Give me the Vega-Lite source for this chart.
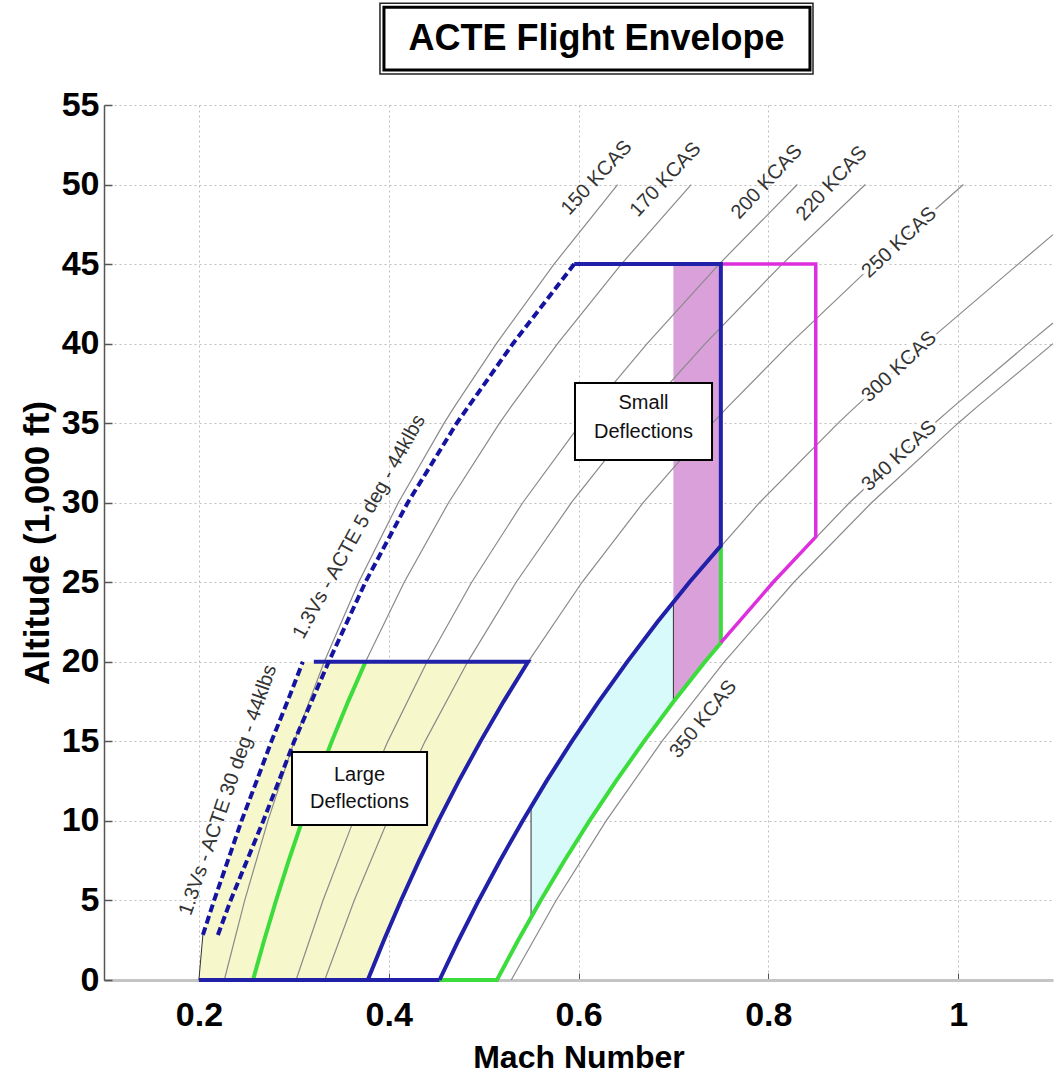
{
  "$schema": "https://vega.github.io/schema/vega-lite/v6.json",
  "width": 949,
  "height": 875,
  "autosize": {"type": "none"},
  "padding": {"left": 104, "top": 105, "right": 3, "bottom": 101},
  "background": "white",
  "config": {"font": "Liberation Sans", "view": {"stroke": null}},
  "datasets": {
    "fills": [
      {"r": "large", "a": 0, "m": 0.2, "m2": 0.37795},
      {"r": "large", "a": 2.83, "m": 0.2042, "m2": 0.39731},
      {"r": "large", "a": 5, "m": 0.216, "m2": 0.41293},
      {"r": "large", "a": 7.5, "m": 0.2305, "m2": 0.43202},
      {"r": "large", "a": 10, "m": 0.2449, "m2": 0.45229},
      {"r": "large", "a": 12.5, "m": 0.2608, "m2": 0.4738},
      {"r": "large", "a": 15, "m": 0.2764, "m2": 0.4967},
      {"r": "large", "a": 17.5, "m": 0.2933, "m2": 0.52101},
      {"r": "large", "a": 20, "m": 0.3095, "m2": 0.54687},
      {"r": "cyan", "a": 3.95, "m": 0.55, "m2": 0.55},
      {"r": "cyan", "a": 5, "m": 0.55, "m2": 0.56008},
      {"r": "cyan", "a": 7.5, "m": 0.55, "m2": 0.58508},
      {"r": "cyan", "a": 10, "m": 0.55, "m2": 0.61151},
      {"r": "cyan", "a": 10.86, "m": 0.55, "m2": 0.6214},
      {"r": "cyan", "a": 12.5, "m": 0.56625, "m2": 0.63944},
      {"r": "cyan", "a": 15, "m": 0.59296, "m2": 0.669},
      {"r": "cyan", "a": 17.5, "m": 0.62127, "m2": 0.7},
      {"r": "cyan", "a": 20, "m": 0.6513, "m2": 0.7},
      {"r": "cyan", "a": 22.5, "m": 0.68313, "m2": 0.7},
      {"r": "cyan", "a": 23.75, "m": 0.7, "m2": 0.7},
      {"r": "pink", "a": 17.5, "m": 0.7, "m2": 0.7},
      {"r": "pink", "a": 20, "m": 0.7, "m2": 0.73327},
      {"r": "pink", "a": 21.2, "m": 0.7, "m2": 0.75},
      {"r": "pink", "a": 45, "m": 0.7, "m2": 0.75}
    ],
    "cas": [
      {"k": "150", "m": 0.22677, "a": 0}, {"k": "150", "m": 0.24828, "a": 5}, {"k": "150", "m": 0.27267, "a": 10}, {"k": "150", "m": 0.3004, "a": 15}, {"k": "150", "m": 0.33208, "a": 20}, {"k": "150", "m": 0.36837, "a": 25}, {"k": "150", "m": 0.41013, "a": 30}, {"k": "150", "m": 0.45836, "a": 35}, {"k": "150", "m": 0.46984, "a": 36.089}, {"k": "150", "m": 0.51343, "a": 40}, {"k": "150", "m": 0.57426, "a": 45}, {"k": "150", "m": 0.64117, "a": 50},
      {"k": "170", "m": 0.25701, "a": 0}, {"k": "170", "m": 0.2813, "a": 5}, {"k": "170", "m": 0.3088, "a": 10}, {"k": "170", "m": 0.34002, "a": 15}, {"k": "170", "m": 0.3756, "a": 20}, {"k": "170", "m": 0.41631, "a": 25}, {"k": "170", "m": 0.46303, "a": 30}, {"k": "170", "m": 0.51678, "a": 35}, {"k": "170", "m": 0.52955, "a": 36.089}, {"k": "170", "m": 0.57793, "a": 40}, {"k": "170", "m": 0.64516, "a": 45}, {"k": "170", "m": 0.71871, "a": 50},
      {"k": "200", "m": 0.30236, "a": 0}, {"k": "200", "m": 0.33074, "a": 5}, {"k": "200", "m": 0.36279, "a": 10}, {"k": "200", "m": 0.39911, "a": 15}, {"k": "200", "m": 0.44039, "a": 20}, {"k": "200", "m": 0.48744, "a": 25}, {"k": "200", "m": 0.54118, "a": 30}, {"k": "200", "m": 0.60272, "a": 35}, {"k": "200", "m": 0.61728, "a": 36.089}, {"k": "200", "m": 0.67227, "a": 40}, {"k": "200", "m": 0.7482, "a": 45}, {"k": "200", "m": 0.83059, "a": 50},
      {"k": "220", "m": 0.33259, "a": 0}, {"k": "220", "m": 0.36364, "a": 5}, {"k": "220", "m": 0.39867, "a": 10}, {"k": "220", "m": 0.43829, "a": 15}, {"k": "220", "m": 0.48322, "a": 20}, {"k": "220", "m": 0.53428, "a": 25}, {"k": "220", "m": 0.59247, "a": 30}, {"k": "220", "m": 0.65883, "a": 35}, {"k": "220", "m": 0.67451, "a": 36.089}, {"k": "220", "m": 0.73352, "a": 40}, {"k": "220", "m": 0.81466, "a": 45}, {"k": "220", "m": 0.90227, "a": 50},
      {"k": "250", "m": 0.37795, "a": 0}, {"k": "250", "m": 0.41293, "a": 5}, {"k": "250", "m": 0.45229, "a": 10}, {"k": "250", "m": 0.4967, "a": 15}, {"k": "250", "m": 0.54687, "a": 20}, {"k": "250", "m": 0.6037, "a": 25}, {"k": "250", "m": 0.66813, "a": 30}, {"k": "250", "m": 0.74121, "a": 35}, {"k": "250", "m": 0.7584, "a": 36.089}, {"k": "250", "m": 0.82292, "a": 40}, {"k": "250", "m": 0.9111, "a": 45}, {"k": "250", "m": 1.00557, "a": 50},
      {"k": "300", "m": 0.45354, "a": 0}, {"k": "300", "m": 0.49481, "a": 5}, {"k": "300", "m": 0.54106, "a": 10}, {"k": "300", "m": 0.59296, "a": 15}, {"k": "300", "m": 0.6513, "a": 20}, {"k": "300", "m": 0.71688, "a": 25}, {"k": "300", "m": 0.79065, "a": 30}, {"k": "300", "m": 0.87356, "a": 35}, {"k": "300", "m": 0.89289, "a": 36.089}, {"k": "300", "m": 0.96528, "a": 40}, {"k": "300", "m": 1.06332, "a": 45}, {"k": "300", "m": 1.1, "a": 46.85},
      {"k": "340", "m": 0.51401, "a": 0}, {"k": "340", "m": 0.56008, "a": 5}, {"k": "340", "m": 0.61151, "a": 10}, {"k": "340", "m": 0.669, "a": 15}, {"k": "340", "m": 0.73327, "a": 20}, {"k": "340", "m": 0.80513, "a": 25}, {"k": "340", "m": 0.88545, "a": 30}, {"k": "340", "m": 0.97511, "a": 35}, {"k": "340", "m": 0.99603, "a": 36.089}, {"k": "340", "m": 1.0737, "a": 40}, {"k": "340", "m": 1.1, "a": 41.3},
      {"k": "350", "m": 0.52912, "a": 0}, {"k": "350", "m": 0.57637, "a": 5}, {"k": "350", "m": 0.62906, "a": 10}, {"k": "350", "m": 0.68787, "a": 15}, {"k": "350", "m": 0.75356, "a": 20}, {"k": "350", "m": 0.82689, "a": 25}, {"k": "350", "m": 0.90874, "a": 30}, {"k": "350", "m": 0.99997, "a": 35}, {"k": "350", "m": 1.02117, "a": 36.089}, {"k": "350", "m": 1.1, "a": 40}
    ],
    "thin": [
      {"p": "edge", "m": 0.2, "a": 0}, {"p": "edge", "m": 0.2042, "a": 2.83},
      {"p": "v55", "m": 0.55, "a": 3.95}, {"p": "v55", "m": 0.55, "a": 10.86},
      {"p": "v70", "m": 0.7, "a": 17.5}, {"p": "v70", "m": 0.7, "a": 23.75}
    ],
    "paths": [
      {"p": "green", "i": 0, "m": 0.45354, "a": 0}, {"p": "green", "i": 1, "m": 0.51401, "a": 0}, {"p": "green", "i": 2, "m": 0.53641, "a": 2.5}, {"p": "green", "i": 3, "m": 0.56008, "a": 5}, {"p": "green", "i": 4, "m": 0.58508, "a": 7.5}, {"p": "green", "i": 5, "m": 0.61151, "a": 10}, {"p": "green", "i": 6, "m": 0.63944, "a": 12.5}, {"p": "green", "i": 7, "m": 0.669, "a": 15}, {"p": "green", "i": 8, "m": 0.70023, "a": 17.5}, {"p": "green", "i": 9, "m": 0.73327, "a": 20}, {"p": "green", "i": 10, "m": 0.75, "a": 21.2}, {"p": "green", "i": 11, "m": 0.75, "a": 27.3},
      {"p": "green170", "i": 0, "m": 0.25701, "a": 0}, {"p": "green170", "i": 1, "m": 0.26878, "a": 2.5}, {"p": "green170", "i": 2, "m": 0.2813, "a": 5}, {"p": "green170", "i": 3, "m": 0.29461, "a": 7.5}, {"p": "green170", "i": 4, "m": 0.3088, "a": 10}, {"p": "green170", "i": 5, "m": 0.32389, "a": 12.5}, {"p": "green170", "i": 6, "m": 0.34002, "a": 15}, {"p": "green170", "i": 7, "m": 0.35722, "a": 17.5}, {"p": "green170", "i": 8, "m": 0.3756, "a": 20},
      {"p": "magenta", "i": 0, "m": 0.75, "a": 21.2}, {"p": "magenta", "i": 1, "m": 0.80513, "a": 25}, {"p": "magenta", "i": 2, "m": 0.85, "a": 27.85}, {"p": "magenta", "i": 3, "m": 0.85, "a": 45}, {"p": "magenta", "i": 4, "m": 0.75, "a": 45},
      {"p": "blue_bottom", "i": 0, "m": 0.2, "a": 0}, {"p": "blue_bottom", "i": 1, "m": 0.45354, "a": 0},
      {"p": "blue_250", "i": 0, "m": 0.37795, "a": 0}, {"p": "blue_250", "i": 1, "m": 0.39493, "a": 2.5}, {"p": "blue_250", "i": 2, "m": 0.41293, "a": 5}, {"p": "blue_250", "i": 3, "m": 0.43202, "a": 7.5}, {"p": "blue_250", "i": 4, "m": 0.45229, "a": 10}, {"p": "blue_250", "i": 5, "m": 0.4738, "a": 12.5}, {"p": "blue_250", "i": 6, "m": 0.4967, "a": 15}, {"p": "blue_250", "i": 7, "m": 0.52101, "a": 17.5}, {"p": "blue_250", "i": 8, "m": 0.54687, "a": 20}, {"p": "blue_250", "i": 9, "m": 0.3211, "a": 20},
      {"p": "blue_300", "i": 0, "m": 0.45354, "a": 0}, {"p": "blue_300", "i": 1, "m": 0.47359, "a": 2.5}, {"p": "blue_300", "i": 2, "m": 0.49481, "a": 5}, {"p": "blue_300", "i": 3, "m": 0.51726, "a": 7.5}, {"p": "blue_300", "i": 4, "m": 0.54106, "a": 10}, {"p": "blue_300", "i": 5, "m": 0.56625, "a": 12.5}, {"p": "blue_300", "i": 6, "m": 0.59296, "a": 15}, {"p": "blue_300", "i": 7, "m": 0.62127, "a": 17.5}, {"p": "blue_300", "i": 8, "m": 0.6513, "a": 20}, {"p": "blue_300", "i": 9, "m": 0.68313, "a": 22.5}, {"p": "blue_300", "i": 10, "m": 0.71688, "a": 25}, {"p": "blue_300", "i": 11, "m": 0.75, "a": 27.3}, {"p": "blue_300", "i": 12, "m": 0.75, "a": 45}, {"p": "blue_300", "i": 13, "m": 0.5955, "a": 45}
    ],
    "dashed": [
      {"p": "d30", "m": 0.2042, "a": 2.83}, {"p": "d30", "m": 0.216, "a": 5}, {"p": "d30", "m": 0.2305, "a": 7.5}, {"p": "d30", "m": 0.2449, "a": 10}, {"p": "d30", "m": 0.2608, "a": 12.5}, {"p": "d30", "m": 0.2764, "a": 15}, {"p": "d30", "m": 0.2933, "a": 17.5}, {"p": "d30", "m": 0.3095, "a": 20},
      {"p": "d5", "m": 0.22, "a": 2.83}, {"p": "d5", "m": 0.2334, "a": 5}, {"p": "d5", "m": 0.2506, "a": 7.5}, {"p": "d5", "m": 0.2678, "a": 10}, {"p": "d5", "m": 0.2842, "a": 12.5}, {"p": "d5", "m": 0.3004, "a": 15}, {"p": "d5", "m": 0.3368, "a": 20}, {"p": "d5", "m": 0.3754, "a": 25}, {"p": "d5", "m": 0.42, "a": 30}, {"p": "d5", "m": 0.4717, "a": 35}, {"p": "d5", "m": 0.5309, "a": 40}, {"p": "d5", "m": 0.5955, "a": 45}
    ],
    "kl": [
      {"g": "top", "t": "150 KCAS", "m": 0.6191, "a": 50.42},
      {"g": "top", "t": "170 KCAS", "m": 0.6917, "a": 50.32},
      {"g": "top", "t": "200 KCAS", "m": 0.7984, "a": 50.17},
      {"g": "top", "t": "220 KCAS", "m": 0.8667, "a": 50.07},
      {"g": "mid", "t": "250 KCAS", "m": 0.9379, "a": 46.36},
      {"g": "mid", "t": "300 KCAS", "m": 0.9379, "a": 38.55},
      {"g": "mid", "t": "340 KCAS", "m": 0.9379, "a": 32.95},
      {"g": "low", "t": "350 KCAS", "m": 0.7315, "a": 16.39}
    ],
    "dl": [
      {"g": "d30", "t": "1.3Vs - ACTE 30 deg - 44klbs", "m": 0.2307, "a": 11.94},
      {"g": "d5", "t": "1.3Vs - ACTE 5 deg - 44klbs", "m": 0.3689, "a": 28.49}
    ],
    "boxes": [
      {"b": "large", "m": 0.2981, "m2": 0.4404, "a": 9.74, "a2": 14.33},
      {"b": "small", "m": 0.5963, "m2": 0.7407, "a": 32.69, "a2": 37.53}
    ],
    "boxtext": [
      {"t": "Large", "m": 0.3692, "a": 12.89},
      {"t": "Deflections", "m": 0.3692, "a": 11.21},
      {"t": "Small", "m": 0.6685, "a": 36.25},
      {"t": "Deflections", "m": 0.6685, "a": 34.46}
    ],
    "tbox": [
      {"b": "outer", "m": 0.3908, "m2": 0.8471, "a": 56.95, "a2": 61.39},
      {"b": "inner", "m": 0.395, "m2": 0.8439, "a": 57.2, "a2": 61.14}
    ],
    "ttext": [
      {"t": "ACTE Flight Envelope", "m": 0.619, "a": 59.18}
    ]
  },
  "encoding": {
    "x": {
      "field": "m", "type": "quantitative",
      "scale": {"domain": [0.1, 1.1], "nice": false, "zero": false},
      "axis": {
        "title": "Mach Number", "values": [0.2, 0.4, 0.6, 0.8, 1], "format": "~g",
        "grid": true, "gridColor": "#bdbdbd", "gridDash": [2, 3], "gridWidth": 1,
        "domainColor": "#c4c4c4", "domainWidth": 3,
        "tickSize": -7, "tickColor": "#555555", "tickWidth": 1,
        "labelFont": "Liberation Sans", "labelFontSize": 34, "labelFontWeight": "bold", "labelColor": "#000000", "labelPadding": 25,
        "titleFont": "Liberation Sans", "titleFontSize": 32, "titleFontWeight": "bold", "titleColor": "#000000", "titlePadding": 10
      }
    },
    "y": {
      "field": "a", "type": "quantitative",
      "scale": {"domain": [0, 55], "nice": false, "zero": false},
      "axis": {
        "title": "Altitude (1,000 ft)", "values": [0, 5, 10, 15, 20, 25, 30, 35, 40, 45, 50, 55],
        "grid": true, "gridColor": "#bdbdbd", "gridDash": [2, 3], "gridWidth": 1,
        "domainColor": "#555555", "domainWidth": 1.5,
        "tickSize": -8, "tickColor": "#555555", "tickWidth": 1.5,
        "labelFont": "Liberation Sans", "labelFontSize": 34, "labelFontWeight": "bold", "labelColor": "#000000", "labelPadding": 13,
        "titleFont": "Liberation Sans", "titleFontSize": 35, "titleFontWeight": "bold", "titleColor": "#000000", "titlePadding": 6
      }
    }
  },
  "layer": [
    {
      "data": {"name": "fills"},
      "mark": {"type": "area", "orient": "horizontal", "opacity": 1},
      "encoding": {
        "x2": {"field": "m2"},
        "color": {"field": "r", "type": "nominal", "scale": {"domain": ["large", "cyan", "pink"], "range": ["#f7f7cc", "#d8fafa", "#d9a0d9"]}, "legend": null}
      }
    },
    {
      "data": {"name": "cas"},
      "mark": {"type": "line", "color": "#8a8a8a", "strokeWidth": 1.2},
      "encoding": {"detail": {"field": "k"}, "order": {"field": "a", "type": "quantitative"}}
    },
    {
      "data": {"name": "thin"},
      "mark": {"type": "line", "color": "#333333", "strokeWidth": 1},
      "encoding": {"detail": {"field": "p"}, "order": {"field": "a", "type": "quantitative"}}
    },
    {
      "data": {"name": "paths"},
      "transform": [{"filter": "indexof(datum.p, 'green') == 0"}],
      "mark": {"type": "line", "strokeWidth": 4, "color": "#3ddc3d", "strokeJoin": "miter", "strokeCap": "butt"},
      "encoding": {"detail": {"field": "p"}, "order": {"field": "i", "type": "quantitative"}}
    },
    {
      "data": {"name": "paths"},
      "transform": [{"filter": "datum.p == 'magenta'"}],
      "mark": {"type": "line", "strokeWidth": 3.5, "color": "#dd2fdd", "strokeJoin": "miter", "strokeCap": "butt"},
      "encoding": {"order": {"field": "i", "type": "quantitative"}}
    },
    {
      "data": {"name": "paths"},
      "transform": [{"filter": "indexof(datum.p, 'blue') == 0"}],
      "mark": {"type": "line", "strokeWidth": 4, "color": "#2020a8", "strokeJoin": "miter", "strokeCap": "butt"},
      "encoding": {"detail": {"field": "p"}, "order": {"field": "i", "type": "quantitative"}}
    },
    {
      "data": {"name": "dashed"},
      "mark": {"type": "line", "color": "#1414a0", "strokeWidth": 4, "strokeDash": [8, 4]},
      "encoding": {"detail": {"field": "p"}, "order": {"field": "a", "type": "quantitative"}}
    },
    {
      "data": {"name": "kl"},
      "transform": [{"filter": "datum.g == 'mid'"}],
      "mark": {"type": "text", "angle": -43, "fontSize": 20, "fill": "white", "stroke": "white", "strokeWidth": 7, "strokeJoin": "round", "align": "center", "baseline": "middle"},
      "encoding": {"text": {"field": "t"}}
    },
    {
      "data": {"name": "kl"},
      "transform": [{"filter": "datum.g == 'mid'"}],
      "mark": {"type": "text", "angle": -43, "fontSize": 20, "color": "#333333", "align": "center", "baseline": "middle"},
      "encoding": {"text": {"field": "t"}}
    },
    {
      "data": {"name": "kl"},
      "transform": [{"filter": "datum.g == 'top'"}],
      "mark": {"type": "text", "angle": -47, "fontSize": 20, "color": "#333333", "align": "center", "baseline": "middle"},
      "encoding": {"text": {"field": "t"}}
    },
    {
      "data": {"name": "kl"},
      "transform": [{"filter": "datum.g == 'low'"}],
      "mark": {"type": "text", "angle": -51, "fontSize": 20, "color": "#333333", "align": "center", "baseline": "middle"},
      "encoding": {"text": {"field": "t"}}
    },
    {
      "data": {"name": "dl"},
      "transform": [{"filter": "datum.g == 'd30'"}],
      "mark": {"type": "text", "angle": -71, "fontSize": 20, "color": "#333333", "align": "center", "baseline": "middle"},
      "encoding": {"text": {"field": "t"}}
    },
    {
      "data": {"name": "dl"},
      "transform": [{"filter": "datum.g == 'd5'"}],
      "mark": {"type": "text", "angle": -61, "fontSize": 20, "color": "#333333", "align": "center", "baseline": "middle"},
      "encoding": {"text": {"field": "t"}}
    },
    {
      "data": {"name": "boxes"},
      "mark": {"type": "rect", "fill": "white", "stroke": "black", "strokeWidth": 2},
      "encoding": {"x2": {"field": "m2"}, "y2": {"field": "a2"}}
    },
    {
      "data": {"name": "boxtext"},
      "mark": {"type": "text", "fontSize": 20, "color": "#111111", "align": "center", "baseline": "middle"},
      "encoding": {"text": {"field": "t"}}
    },
    {
      "data": {"name": "tbox"},
      "transform": [{"filter": "datum.b == 'outer'"}],
      "mark": {"type": "rect", "fill": "white", "stroke": "#222222", "strokeWidth": 1.5},
      "encoding": {"x2": {"field": "m2"}, "y2": {"field": "a2"}}
    },
    {
      "data": {"name": "tbox"},
      "transform": [{"filter": "datum.b == 'inner'"}],
      "mark": {"type": "rect", "fill": "white", "stroke": "black", "strokeWidth": 3},
      "encoding": {"x2": {"field": "m2"}, "y2": {"field": "a2"}}
    },
    {
      "data": {"name": "ttext"},
      "mark": {"type": "text", "fontSize": 36, "fontWeight": "bold", "color": "black", "align": "center", "baseline": "middle"},
      "encoding": {"text": {"field": "t"}}
    }
  ]
}
